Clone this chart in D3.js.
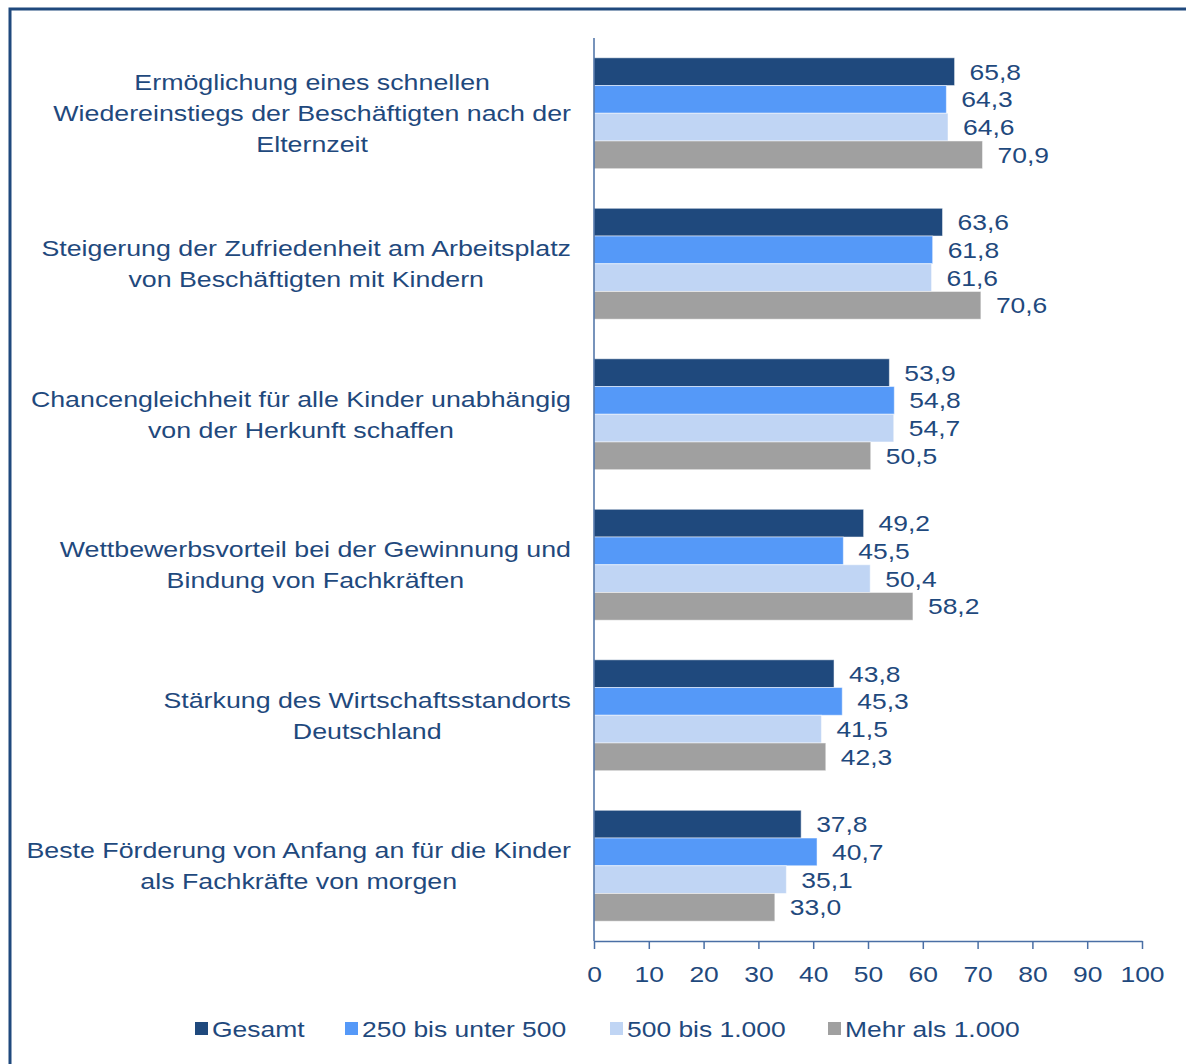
<!DOCTYPE html>
<html><head><meta charset="utf-8">
<script src="https://cdn.jsdelivr.net/npm/d3@7"></script>
<style>body{margin:0;background:#fff;} svg{display:block;} text{font-family:"Liberation Sans",Arial,sans-serif;}</style>
</head><body>
<svg id="c" width="1186" height="1064"></svg>
<script>
const categories = [
  ["Ermöglichung eines schnellen","Wiedereinstiegs der Beschäftigten nach der","Elternzeit"],
  ["Steigerung der Zufriedenheit am Arbeitsplatz","von Beschäftigten mit Kindern"],
  ["Chancengleichheit für alle Kinder unabhängig","von der Herkunft schaffen"],
  ["Wettbewerbsvorteil bei der Gewinnung und","Bindung von Fachkräften"],
  ["Stärkung des Wirtschaftsstandorts","Deutschland"],
  ["Beste Förderung von Anfang an für die Kinder","als Fachkräfte von morgen"]
];
const seriesNames = ["Gesamt","250 bis unter 500","500 bis 1.000","Mehr als 1.000"];
const gesamt = [65.8,63.6,53.9,49.2,43.8,37.8];
const s250 = [64.3,61.8,54.8,45.5,45.3,40.7];
const s500 = [64.6,61.6,54.7,50.4,41.5,35.1];
const smehr = [70.9,70.6,50.5,58.2,42.3,33.0];
const xTicks = [0,10,20,30,40,50,60,70,80,90,100];
const colors = ["#1F497D","#5599F8","#C0D5F4","#A0A0A0"];

const series = [gesamt,s250,s500,smehr];
const svg = d3.select("#c");
const txt = "#1F497D";
const FS = 22.5, SX = 1.175, SXC = 1.19;
function stext(parent, px, py, s, anchor, sx){
  return parent.append("text").attr("transform",`translate(${px},${py}) scale(${sx||SX},1)`)
    .attr("dy","0.36em").attr("text-anchor",anchor||"start").attr("fill",txt).attr("font-size",FS).text(s);
}

// frame
svg.append("path").attr("d","M10,1070 V9 H1190").attr("fill","none").attr("stroke","#1F497D").attr("stroke-width",3);

const x = d3.scaleLinear().domain([0,100]).range([594,1142]);
const keys = categories.map((c,i)=>i);
const y0 = d3.scaleBand().domain(keys).range([38,941]).paddingInner(0.263).paddingOuter(0.1315);
const y1 = d3.scaleBand().domain(d3.range(series.length)).range([0,y0.bandwidth()]);

const g = svg.append("g");
keys.forEach(i=>{
  series.forEach((s,j)=>{
    const yy = y0(i)+y1(j);
    g.append("rect").attr("x",x(0)).attr("y",yy).attr("width",x(s[i])-x(0)).attr("height",y1.bandwidth())
      .attr("fill",colors[j]).attr("stroke","rgba(255,255,255,0.5)").attr("stroke-width",1);
    stext(g, x(s[i])+15, yy+y1.bandwidth()/2, d3.format(".1f")(s[i]).replace(".",","));
  });
  const lines = categories[i];
  const cy = y0(i)+y0.bandwidth()/2;
  const lh = 31;
  const grp = svg.append("g");
  const ts = lines.map((l,k)=>stext(grp, 0, cy+(k-(lines.length-1)/2)*lh, l, "middle", SXC));
  const maxW = d3.max(ts, t=>t.node().getComputedTextLength())*SXC;
  const cx = 571 - maxW/2;
  grp.attr("transform",`translate(${cx},0)`);
});

// axis
const ax = svg.append("g").attr("transform","translate(0,941)")
  .call(d3.axisBottom(x).tickValues(xTicks).tickSize(8).tickPadding(17).tickSizeOuter(0));
ax.select(".domain").attr("stroke","#4A6FA5").attr("stroke-width",1.5);
ax.selectAll(".tick line").attr("stroke","#4A6FA5").attr("stroke-width",1.5);
ax.selectAll(".tick text").attr("fill",txt).attr("font-size",FS).attr("transform",`scale(${SX},1)`)
  .attr("font-family","Liberation Sans, Arial, sans-serif");
svg.append("line").attr("x1",x(0)).attr("x2",x(0)).attr("y1",38).attr("y2",941).attr("stroke","#4A6FA5").attr("stroke-width",1.5);

// legend
const legX = [195,345,610,828];
seriesNames.forEach((n,j)=>{
  svg.append("rect").attr("x",legX[j]).attr("y",1022).attr("width",13).attr("height",13).attr("fill",colors[j]);
  stext(svg, legX[j]+17, 1029, n);
});
</script>
</body></html>
